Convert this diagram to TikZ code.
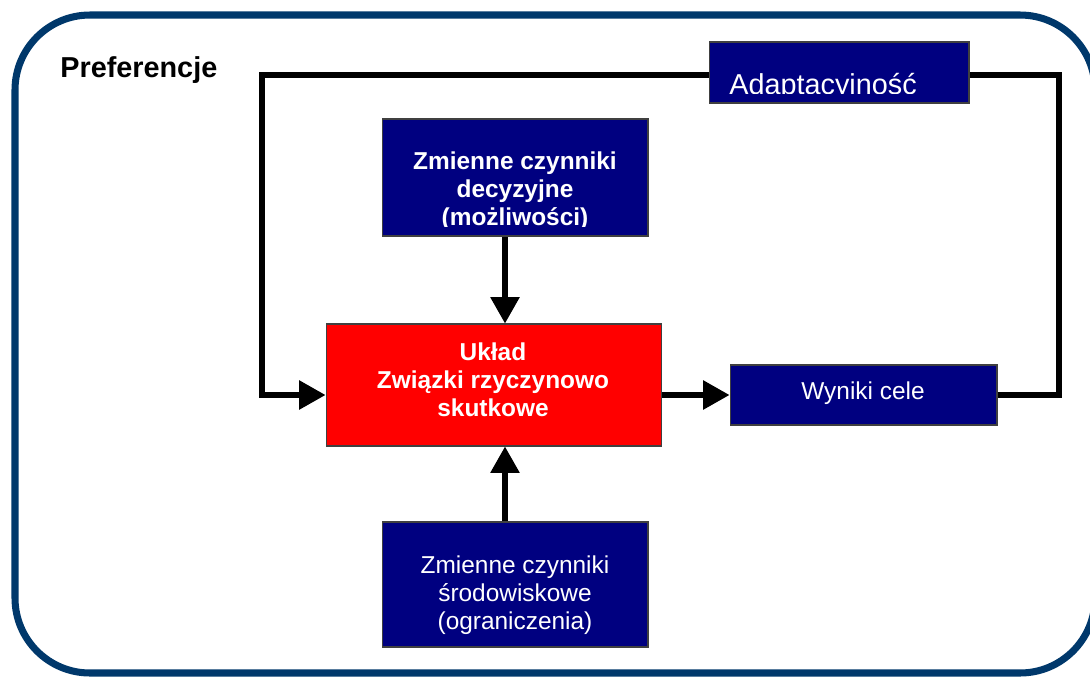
\documentclass[tikz,border=0pt]{standalone}
\usepackage{fontspec}
\setmainfont{Liberation Sans}
\usepackage{xcolor}
\definecolor{frameblue}{RGB}{0,56,107}
\definecolor{boxnavy}{RGB}{0,0,128}
\definecolor{boxred}{RGB}{255,0,0}
\usetikzlibrary{arrows.meta, positioning, calc}

\begin{document}
\begin{tikzpicture}[x=0.02cm, y=-0.02cm,
  navybox/.style={draw=black!75, line width=0.6pt, fill=boxnavy, inner sep=0pt},
  redbox/.style={draw=black!75, line width=0.6pt, fill=boxred, inner sep=0pt},
  boxtext/.style={text=white, font=\fontsize{13.9}{15.9}\selectfont, align=center, inner sep=0pt, anchor=base},
  boldtext/.style={boxtext, font=\fontsize{13.9}{15.9}\selectfont\bfseries},
  linkline/.style={line width=3pt},
  headarrow/.style={-{Triangle[length=15pt, width=16pt]}}
]
\useasboundingbox (0,0) rectangle (1090,677);

% --- Outer frame ---
\draw[frameblue, line width=4pt, rounded corners=1.5cm] (15,15) rectangle (1095,673);
\node[font=\fontsize{16.4}{19}\selectfont\bfseries, anchor=base west, inner sep=0pt] (pref) at (60,77) {Preferencje};

% --- Boxes ---
\node[navybox, minimum width=5.32cm, minimum height=2.34cm] (dec) at (515,177.5) {};
\node[redbox, minimum width=6.72cm, minimum height=2.44cm] (uklad) at (494,385) {};
\node[navybox, minimum width=5.34cm, minimum height=1.2cm] (wyn) at (863.5,395) {};
\node[navybox, minimum width=5.32cm, minimum height=2.5cm] (env) at (515,584.5) {};
\node[navybox, minimum width=5.2cm, minimum height=1.22cm] (adapt) at (839,72.5) {};

% Texts (two of them cut off at the baseline)
\begin{scope}
  \clip (dec.north west) rectangle (648,226);
  \node[boldtext] (dectxt) at (515,225) {Zmienne czynniki\\decyzyjne\\(możliwości)};
\end{scope}
\node[boldtext] (ukladtxt) at (493,416) {Układ\\Związki rzyczynowo\\skutkowe};
\node[boxtext] (wyntxt) at (863,399) {Wyniki cele};
\node[boxtext] (envtxt) at (515,629) {Zmienne czynniki\\środowiskowe\\(ograniczenia)};
\begin{scope}
  \clip (adapt.north west) rectangle (969,93.5);
  \node[text=white, font=\fontsize{16.4}{19}\selectfont, anchor=base west, inner sep=0pt] (adapttxt) at (729,94) {Adaptacyjność};
\end{scope}

% --- Arrows ---
\draw[linkline, headarrow] ([xshift=-0.2cm]dec.south) -- ([xshift=-0.2cm]dec.south |- uklad.north);
\draw[linkline, headarrow] ([xshift=-0.2cm]env.north) -- ([xshift=-0.2cm]env.north |- uklad.south);
\draw[linkline, headarrow] (uklad.east |- wyn.west) -- (wyn.west);

% Feedback loop
\coordinate (fbR) at (1059,75);
\coordinate (fbL) at (262,75);
\draw[linkline] (wyn.east) -| (fbR) -- (adapt.east |- fbR);
\draw[linkline, headarrow] (adapt.west |- fbR) -- (fbL) |- (uklad.west |- wyn.west);

\end{tikzpicture}
\end{document}
